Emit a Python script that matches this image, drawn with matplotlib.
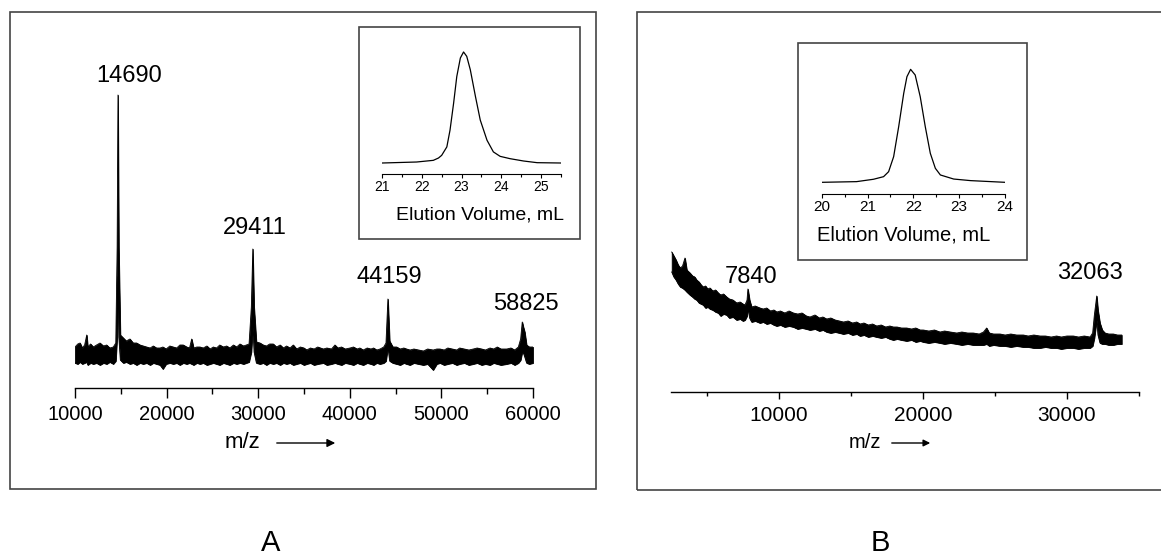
import numpy as np
import matplotlib
matplotlib.use("Agg")
import matplotlib.pyplot as plt
from matplotlib.patches import Rectangle
from matplotlib.ticker import MultipleLocator

plt.rcParams['font.family'] = ['Liberation Sans', 'DejaVu Sans']

W, H = 1161, 557

# ---------------- data ----------------
# Panel A mass spectrum: noise envelope (upper / lower, arbitrary units)
a_mz = [10000, 10300, 10550, 10800, 11050, 11280, 11400, 11700, 12000, 12350, 12730, 13100,
        13460, 13800, 14180, 14450, 14600, 14690, 14780, 14950, 15280, 15600, 16000, 16350,
        16730, 17100, 17450, 17820, 18200, 18550, 18900, 19280, 19600, 19950, 20350, 20730,
        21100, 21450, 21820, 22200, 22500, 22740, 22950, 23300, 23650, 24000, 24400, 24750,
        25100, 25450, 25800, 26200, 26560, 26900, 27300, 27650, 28010, 28400, 28700, 29000,
        29250, 29411, 29550, 29800, 30200, 30550, 30900, 31250, 31650, 32000, 32400, 32750,
        33100, 33470, 33830, 34200, 34600, 35000, 35300, 35700, 36100, 36500, 37110, 37500,
        38000, 38380, 38700, 39100, 39500, 40020, 40400, 40800, 41100, 41470, 41900, 42300,
        42600, 42940, 43300, 43700, 43950, 44159, 44350, 44700, 45120, 45500, 45900, 46200,
        46570, 47000, 47500, 48030, 48500, 49100, 49500, 49850, 50300, 50700, 51200, 51670,
        52000, 52500, 53000, 53480, 53900, 54400, 54800, 55310, 55700, 56100, 56500, 57130,
        57600, 58000, 58400, 58650, 58825, 58950, 59100, 59300, 59600, 60000]
a_upper = [10, 13, 14, 9, 12, 22, 10, 13, 10, 12, 14, 11,
           12, 9, 10, 14, 110, 262, 110, 22, 19, 16, 18, 14,
           14, 12, 11, 10, 9, 11, 9, 9, 10, 8, 11, 10,
           9, 12, 12, 10, 9, 18, 9, 10, 10, 9, 11, 8,
           10, 9, 12, 10, 11, 9, 12, 10, 13, 11, 12, 13,
           50, 108, 50, 15, 14, 12, 11, 13, 13, 10, 12, 9,
           11, 9, 12, 8, 10, 9, 7, 9, 8, 10, 8, 9,
           8, 12, 9, 10, 8, 9, 10, 8, 9, 7, 9, 8,
           9, 7, 8, 10, 14, 58, 16, 10, 10, 8, 9, 8,
           7, 8, 7, 6, 8, 7, 8, 8, 7, 9, 8, 7,
           9, 8, 7, 8, 9, 8, 7, 9, 8, 10, 8, 8,
           9, 7, 10, 18, 35, 30, 25, 12, 10, 10]
a_lower = [-6, -7, -5, -7, -6, -5, -8, -6, -7, -6, -8, -6,
           -7, -5, -7, -4, 20, 80, 20, -3, -6, -5, -7, -6,
           -8, -6, -7, -6, -8, -6, -7, -8, -12, -7, -6, -7,
           -6, -8, -6, -7, -6, -7, -8, -6, -7, -6, -8, -7,
           -6, -7, -8, -6, -7, -8, -6, -7, -6, -7, -6, -5,
           5, 30, 5, -6, -7, -6, -8, -6, -7, -6, -8, -6,
           -7, -6, -8, -7, -6, -8, -7, -6, -8, -7, -6, -8,
           -7, -6, -7, -8, -6, -7, -8, -6, -7, -8, -6, -7,
           -8, -6, -7, -6, -4, 10, -4, -6, -7, -8, -6, -7,
           -8, -6, -7, -8, -7, -13, -7, -6, -8, -7, -6, -8,
           -7, -6, -8, -7, -6, -8, -7, -8, -6, -7, -8, -7,
           -6, -8, -6, -3, 5, 4, 0, -6, -7, -6]
a_peaks = [14690, 29411, 44159, 58825]
a_peak_heights = [262, 108, 58, 35]
a_peak_labels = ["14690", "29411", "44159", "58825"]

# Panel A inset: elution profile (relative absorbance)
a_vol = [21.0, 21.87, 22.29, 22.42, 22.50, 22.63, 22.71, 22.80, 22.88, 22.97, 23.05,
         23.13, 23.22, 23.35, 23.47, 23.64, 23.80, 23.97, 24.22, 24.56, 24.90, 25.50]
a_abs = [0.0, 0.009, 0.024, 0.045, 0.069, 0.145, 0.296, 0.538, 0.779, 0.946, 1.0,
         0.961, 0.840, 0.598, 0.387, 0.205, 0.100, 0.060, 0.039, 0.018, 0.003, 0.0]

# Panel B mass spectrum: noise envelope (upper / lower, arbitrary units)
b_mz = [2550, 2700, 2850, 3000, 3150, 3300, 3470, 3600, 3820, 4000, 4150, 4285, 4450, 4600,
        4740, 4900, 5050, 5210, 5400, 5600, 5785, 5950, 6150, 6370, 6550, 6800, 7060, 7300,
        7500, 7640, 7780, 7840, 7960, 8100, 8350, 8680, 8900, 9150, 9400, 9650, 9840, 10100,
        10400, 10700, 11000, 11300, 11600, 11900, 12150, 12500, 12800, 13050, 13310, 13600,
        13900, 14200, 14470, 14800, 15100, 15400, 15630, 15900, 16200, 16500, 16780, 17100,
        17400, 17700, 17940, 18200, 18500, 18870, 19200, 19500, 19800, 20020, 20400, 20800,
        21180, 21500, 21900, 22340, 22700, 23100, 23490, 23900, 24200, 24420, 24600, 24900,
        25350, 25700, 26100, 26500, 26970, 27300, 27700, 28130, 28500, 28900, 29280, 29600,
        30000, 30440, 30800, 31200, 31600, 31780, 31900, 32063, 32150, 32290, 32450, 32640,
        32900, 33220, 33500, 33800]
b_upper = [108, 104, 100, 95, 92, 94, 102, 90, 87, 84, 83, 80, 78, 75,
           73, 74, 71, 72, 69, 70, 67, 65, 66, 63, 61, 60, 57, 58,
           56, 55, 60, 71, 60, 53, 54, 52, 51, 52, 49, 50, 48, 49,
           47, 49, 47, 46, 47, 44, 43, 45, 42, 43, 41, 42,
           40, 39, 38, 39, 37, 38, 36, 37, 35, 36, 34, 35,
           33, 34, 33, 33, 32, 32, 31, 32, 30, 30, 29, 30,
           28, 29, 28, 27, 28, 27, 27, 26, 28, 32, 27, 26,
           26, 25, 26, 25, 25, 24, 25, 24, 24, 23, 24, 23,
           24, 24, 23, 24, 23, 27, 45, 64, 50, 37, 30, 27,
           26, 26, 25, 25]
b_lower = [88, 83, 80, 76, 73, 72, 70, 68, 65, 63, 61, 60, 57, 56,
           55, 52, 53, 51, 50, 48, 47, 44, 46, 45, 42, 43, 40, 41,
           39, 40, 44, 52, 42, 38, 39, 37, 38, 36, 37, 35, 34, 35,
           33, 34, 33, 31, 32, 31, 30, 31, 29, 30, 28, 27,
           28, 27, 26, 27, 25, 26, 24, 25, 23, 24, 23, 22,
           23, 21, 20, 21, 20, 19, 20, 18, 19, 18, 17, 18,
           17, 16, 17, 16, 15, 16, 15, 15, 15, 16, 14, 15,
           14, 14, 13, 14, 13, 13, 12, 12, 13, 12, 12, 11,
           12, 12, 11, 12, 12, 14, 22, 40, 25, 17, 16, 16,
           15, 15, 16, 16]
b_peaks = [7840, 32063]
b_peak_heights = [71, 64]
b_peak_labels = ["7840", "32063"]

# Panel B inset: elution profile (relative absorbance)
b_vol = [20.0, 20.76, 21.13, 21.35, 21.46, 21.57, 21.68, 21.79, 21.86, 21.94, 22.04,
         22.15, 22.26, 22.37, 22.48, 22.59, 22.88, 23.25, 24.0]
b_abs = [0.0, 0.006, 0.027, 0.050, 0.094, 0.227, 0.493, 0.788, 0.935, 1.0, 0.950,
         0.758, 0.493, 0.257, 0.124, 0.065, 0.029, 0.015, 0.0]

# ---------------- figure ----------------
fig = plt.figure(figsize=(W / 100, H / 100), dpi=100)


def px_axes(x0, y0, x1, y1):
    return fig.add_axes([x0 / W, 1 - y1 / H, (x1 - x0) / W, (y1 - y0) / H])


def frame(x0, y0, x1, y1, color='#444444', lw=1.2):
    fig.add_artist(Rectangle((x0 / W, 1 - y1 / H), (x1 - x0) / W, (y1 - y0) / H,
                             transform=fig.transFigure, fill=False,
                             edgecolor=color, linewidth=lw))


def only_bottom(ax):
    for s in ['top', 'left', 'right']:
        ax.spines[s].set_visible(False)
    ax.set_yticks([])
    ax.patch.set_visible(False)


# outer frames
frame(10, 12, 596, 489)
frame(637, 12, 1175, 490)

# ---- Panel A main ----
axA = px_axes(75, 60, 533, 388)
only_bottom(axA)
axA.fill_between(a_mz, a_lower, a_upper, color='black', linewidth=0.6)
axA.plot(a_mz, a_upper, color='black', lw=0.6)
axA.plot(a_mz, a_lower, color='black', lw=0.6)
axA.set_xlim(10000, 60000)
axA.set_ylim(-31, 297)
axA.xaxis.set_major_locator(MultipleLocator(10000))
axA.xaxis.set_minor_locator(MultipleLocator(5000))
axA.tick_params(axis='x', which='major', direction='out', length=7, width=1.0,
                labelsize=14.5, pad=5)
axA.tick_params(axis='x', which='minor', direction='out', length=4, width=1.0)
axA.spines['bottom'].set_linewidth(1.0)
a_offsets = [(11, 19), (2, 21), (1, 22), (4, 18)]
for mz, h, lab, (dx, dy) in zip(a_peaks, a_peak_heights, a_peak_labels, a_offsets):
    axA.annotate(lab, xy=(mz, h), xytext=(dx * 0.72, dy * 0.72), textcoords='offset points',
                 ha='center', va='center', fontsize=17)

fig.text(242 / W, 1 - 443 / H, 'm/z', ha='center', va='center', fontsize=16)
axA.annotate('', xy=(338, H - 443), xytext=(274, H - 443), xycoords='figure pixels',
             textcoords='figure pixels',
             arrowprops=dict(arrowstyle='-|>', color='black', lw=1.0, mutation_scale=12))

# ---- Panel A inset ----
frame(359, 27, 580, 239)
axAi = px_axes(382, 40, 561, 174)
only_bottom(axAi)
axAi.plot(a_vol, a_abs, color='black', lw=0.9)
axAi.set_xlim(21, 25.5)
axAi.set_ylim(-0.099, 1.108)
axAi.xaxis.set_major_locator(MultipleLocator(1))
axAi.xaxis.set_minor_locator(MultipleLocator(0.5))
axAi.tick_params(axis='x', which='major', direction='out', length=3, width=0.8,
                 labelsize=10, pad=1)
axAi.tick_params(axis='x', which='minor', direction='out', length=2, width=0.8)
axAi.spines['bottom'].set_linewidth(0.8)
fig.text(480 / W, 1 - 215 / H, 'Elution Volume, mL', ha='center', va='center', fontsize=14)

# ---- Panel B main ----
axB = px_axes(671, 200, 1139, 392)
only_bottom(axB)
axB.fill_between(b_mz, b_lower, b_upper, color='black', linewidth=0.6)
axB.plot(b_mz, b_upper, color='black', lw=0.6)
axB.plot(b_mz, b_lower, color='black', lw=0.6)
axB.set_xlim(2500, 35000)
axB.set_ylim(-32, 160)
axB.xaxis.set_major_locator(MultipleLocator(10000))
axB.xaxis.set_minor_locator(MultipleLocator(5000))
axB.tick_params(axis='x', which='major', direction='out', length=5, width=1.0,
                labelsize=15, pad=5)
axB.tick_params(axis='x', which='minor', direction='out', length=3, width=1.0)
axB.spines['bottom'].set_linewidth(1.0)
b_offsets = [(3, 12), (-7, 23)]
for mz, h, lab, (dx, dy) in zip(b_peaks, b_peak_heights, b_peak_labels, b_offsets):
    axB.annotate(lab, xy=(mz, h), xytext=(dx * 0.72, dy * 0.72), textcoords='offset points',
                 ha='center', va='center', fontsize=17)

fig.text(865 / W, 1 - 443 / H, 'm/z', ha='center', va='center', fontsize=14.5)
axB.annotate('', xy=(933, H - 443), xytext=(889, H - 443), xycoords='figure pixels',
             textcoords='figure pixels',
             arrowprops=dict(arrowstyle='-|>', color='black', lw=1.0, mutation_scale=10))

# ---- Panel B inset ----
frame(798, 43, 1027, 260)
axBi = px_axes(821.7, 55, 1005, 193.5)
only_bottom(axBi)
axBi.plot(b_vol, b_abs, color='black', lw=0.9)
axBi.set_xlim(20, 24)
axBi.set_ylim(-0.099, 1.127)
axBi.xaxis.set_major_locator(MultipleLocator(1))
axBi.xaxis.set_minor_locator(MultipleLocator(0.5))
axBi.tick_params(axis='x', which='major', direction='out', length=3, width=0.8,
                 labelsize=11, pad=2)
axBi.tick_params(axis='x', which='minor', direction='out', length=2, width=0.8)
axBi.spines['bottom'].set_linewidth(0.8)
fig.text(904 / W, 1 - 235 / H, 'Elution Volume, mL', ha='center', va='center', fontsize=14.5)

# panel letters
fig.text(271 / W, 1 - 543 / H, 'A', ha='center', va='center', fontsize=21)
fig.text(880 / W, 1 - 543 / H, 'B', ha='center', va='center', fontsize=21)

fig.savefig('out.png', dpi=100)
